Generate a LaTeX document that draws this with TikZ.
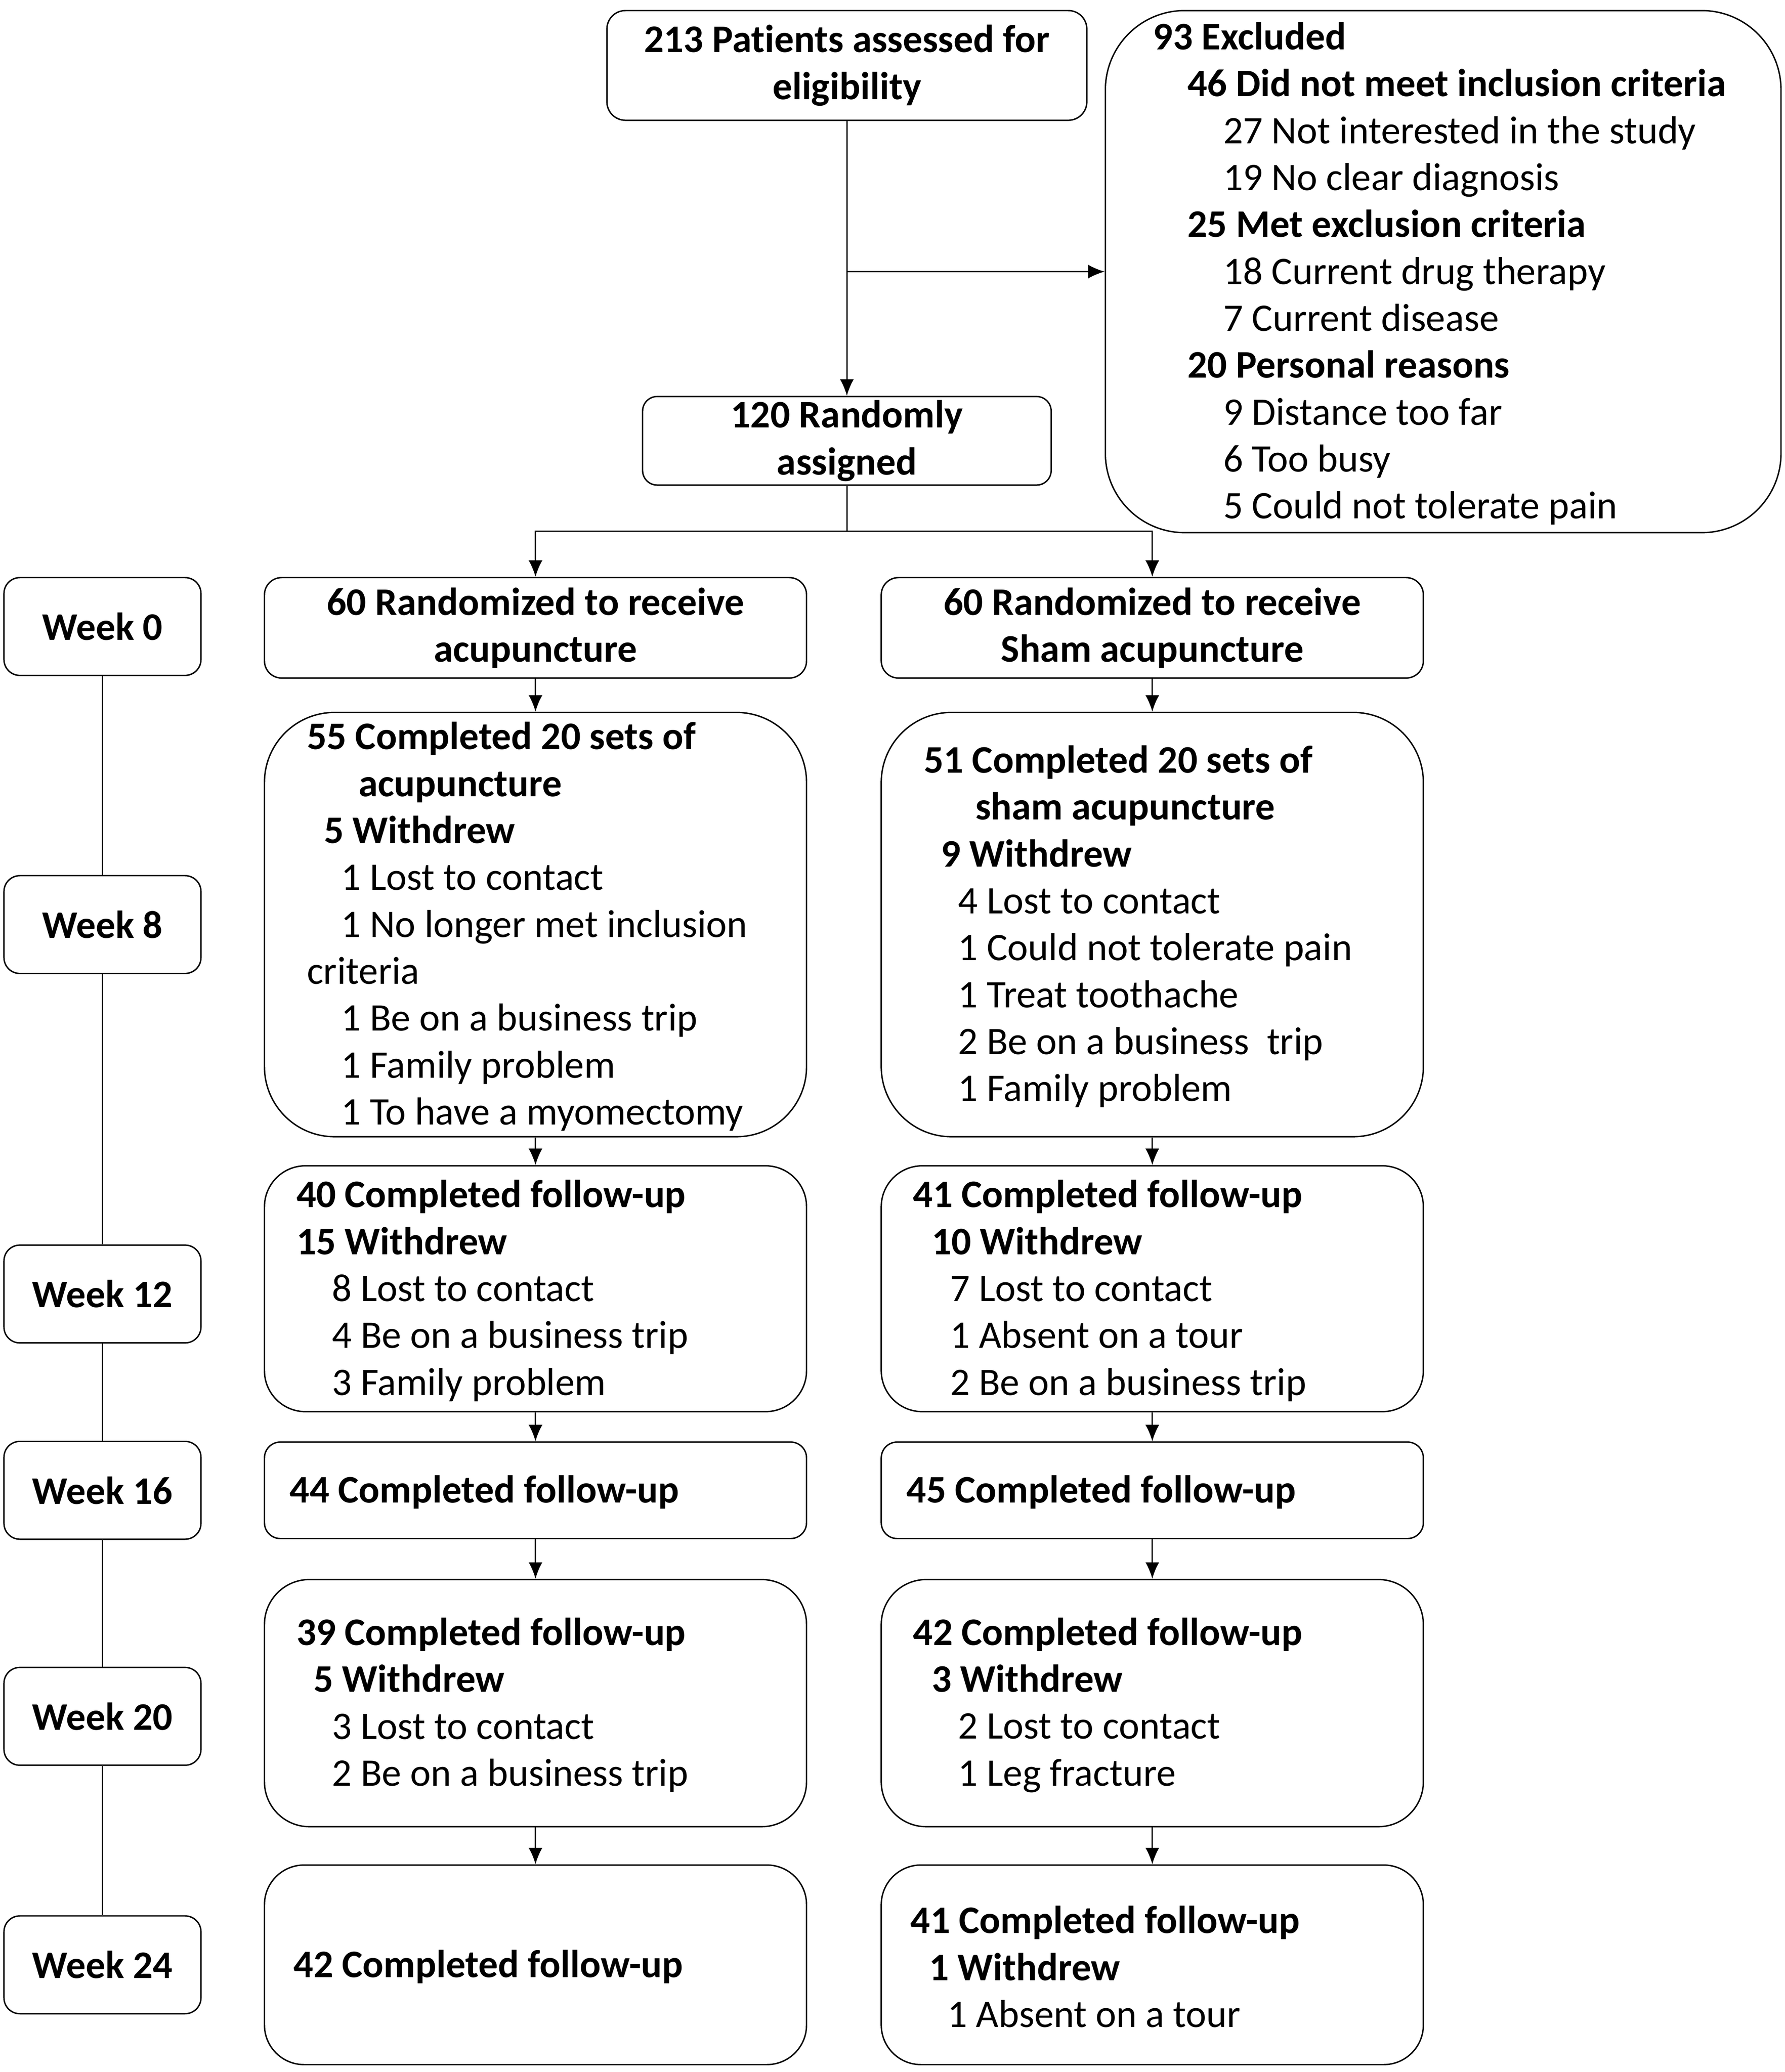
\documentclass[tikz,border=0pt]{standalone}
\usepackage{fontspec}
\setmainfont{Carlito}[Ligatures=NoCommon]
\usetikzlibrary{arrows.meta,positioning}

\tikzset{
  box/.style={draw,line width=0.3pt,inner sep=0pt,align=center},
  wk/.style={box,rounded corners=1.2mm,minimum width=14.9mm,minimum height=7.4mm,font=\fontsize{8.4}{10.1}\selectfont\bfseries},
  colbox/.style={box,minimum width=41mm},
  lst/.style={anchor=west,align=left,inner sep=0pt,yshift=-0.15mm},
  ln/.style={line width=0.3pt},
  arr/.style={ln,-{Latex[length=1.25mm,width=1.05mm]}}
}

\begin{document}
\begin{tikzpicture}[x=0.1mm,y=-0.1mm,font=\fontsize{8.4}{10.1}\selectfont]
\useasboundingbox (0,0) rectangle (1350,1567.6);

\node[box,rounded corners=1.4mm,minimum width=36.3mm,minimum height=8.3mm,font=\fontsize{8.4}{10.1}\selectfont\bfseries] (elig) at (640.5,49.5) {213 Patients assessed for\\eligibility};
\node[box,rounded corners=6mm,minimum width=51.1mm,minimum height=39.5mm] (excl) at (1091.5,205.5) {};
\node[lst] (exclt) at ([xshift=3.6mm]excl.west) {\textbf{93 Excluded}\\
\hspace*{2.6mm}\textbf{46 Did not meet inclusion criteria}\\
\hspace*{5.3mm}27 Not interested in the study\\
\hspace*{5.3mm}19 No clear diagnosis\\
\hspace*{2.6mm}\textbf{25 Met exclusion criteria}\\
\hspace*{5.3mm}18 Current drug therapy\\
\hspace*{5.3mm}7 Current disease\\
\hspace*{2.6mm}\textbf{20 Personal reasons}\\
\hspace*{5.3mm}9 Distance too far\\
\hspace*{5.3mm}6 Too busy\\
\hspace*{5.3mm}5 Could not tolerate pain};
\node[box,rounded corners=1.1mm,minimum width=30.9mm,minimum height=6.7mm,font=\fontsize{8.4}{10.1}\selectfont\bfseries] (rand) at (640.5,333.5) {120 Randomly\\assigned};

\node[wk] (w0) at (77.5,474) {Week 0};
\node[wk] (w8) at (77.5,699.5) {Week 8};
\node[wk] (w12) at (77.5,979) {Week 12};
\node[wk] (w16) at (77.5,1127.5) {Week 16};
\node[wk] (w20) at (77.5,1298.5) {Week 20};
\node[wk] (w24) at (77.5,1486.5) {Week 24};

\node[colbox,rounded corners=1.3mm,minimum height=7.6mm,font=\fontsize{8.4}{10.1}\selectfont\bfseries] (a1) at (405,475) {60 Randomized to receive\\acupuncture};
\node[colbox,rounded corners=5.3mm,minimum height=32.1mm] (a2) at (405,699.5) {};
\node[lst] (a2t) at ([xshift=3.2mm]a2.west) {\textbf{55 Completed 20 sets of}\\
\hspace*{3.9mm}\textbf{acupuncture}\\
\hspace*{1.3mm}\textbf{5 Withdrew}\\
\hspace*{2.6mm}1 Lost to contact\\
\hspace*{2.6mm}1 No longer met inclusion\\
criteria\\
\hspace*{2.6mm}1 Be on a business trip\\
\hspace*{2.6mm}1 Family problem\\
\hspace*{2.6mm}1 To have a myomectomy};
\node[colbox,rounded corners=3.1mm,minimum height=18.6mm] (a3) at (405,975) {};
\node[lst] (a3t) at ([xshift=2.4mm]a3.west) {\textbf{40 Completed follow-up}\\
\textbf{15 Withdrew}\\
\hspace*{2.7mm}8 Lost to contact\\
\hspace*{2.7mm}4 Be on a business trip\\
\hspace*{2.7mm}3 Family problem};
\node[colbox,rounded corners=1.2mm,minimum height=7.3mm] (a4) at (405,1127.5) {};
\node[lst] (a4t) at ([xshift=1.9mm]a4.west) {\textbf{44 Completed follow-up}};
\node[colbox,rounded corners=3.4mm,minimum height=18.7mm] (a5) at (405,1288.5) {};
\node[lst] (a5t) at ([xshift=2.4mm]a5.west) {\textbf{39 Completed follow-up}\\
\hspace*{1.3mm}\textbf{5 Withdrew}\\
\hspace*{2.7mm}3 Lost to contact\\
\hspace*{2.7mm}2 Be on a business trip};
\node[colbox,rounded corners=3mm,minimum height=15.1mm] (a6) at (405,1486.5) {};
\node[lst] (a6t) at ([xshift=2.2mm]a6.west) {\textbf{42 Completed follow-up}};

\node[colbox,rounded corners=1.3mm,minimum height=7.6mm,font=\fontsize{8.4}{10.1}\selectfont\bfseries] (b1) at (871.5,475) {60 Randomized to receive\\Sham acupuncture};
\node[colbox,rounded corners=5.3mm,minimum height=32.1mm] (b2) at (871.5,699.5) {};
\node[lst] (b2t) at ([xshift=3.2mm]b2.west) {\textbf{51 Completed 20 sets of}\\
\hspace*{3.9mm}\textbf{sham acupuncture}\\
\hspace*{1.3mm}\textbf{9 Withdrew}\\
\hspace*{2.6mm}4 Lost to contact\\
\hspace*{2.6mm}1 Could not tolerate pain\\
\hspace*{2.6mm}1 Treat toothache\\
\hspace*{2.6mm}2 Be on a business\ \ trip\\
\hspace*{2.6mm}1 Family problem};
\node[colbox,rounded corners=3.1mm,minimum height=18.6mm] (b3) at (871.5,975) {};
\node[lst] (b3t) at ([xshift=2.4mm]b3.west) {\textbf{41 Completed follow-up}\\
\hspace*{1.4mm}\textbf{10 Withdrew}\\
\hspace*{2.8mm}7 Lost to contact\\
\hspace*{2.8mm}1 Absent on a tour\\
\hspace*{2.8mm}2 Be on a business trip};
\node[colbox,rounded corners=1.2mm,minimum height=7.3mm] (b4) at (871.5,1127.5) {};
\node[lst] (b4t) at ([xshift=1.9mm]b4.west) {\textbf{45 Completed follow-up}};
\node[colbox,rounded corners=3.4mm,minimum height=18.7mm] (b5) at (871.5,1288.5) {};
\node[lst] (b5t) at ([xshift=2.4mm]b5.west) {\textbf{42 Completed follow-up}\\
\hspace*{1.4mm}\textbf{3 Withdrew}\\
\hspace*{3.4mm}2 Lost to contact\\
\hspace*{3.4mm}1 Leg fracture};
\node[colbox,rounded corners=3mm,minimum height=15.1mm] (b6) at (871.5,1486.5) {};
\node[lst] (b6t) at ([xshift=2.2mm]b6.west) {\textbf{41 Completed follow-up}\\
\hspace*{1.4mm}\textbf{1 Withdrew}\\
\hspace*{2.8mm}1 Absent on a tour};

\draw[arr] (elig.south) -- (rand.north);
\draw[arr] (elig.south |- excl.west) -- (excl.west);
\coordinate (split) at (640.5,402);
\draw[ln] (rand.south) -- (split);
\draw[arr] (split) -| (a1.north);
\draw[arr] (split) -| (b1.north);

\draw[arr] (a1.south) -- (a2.north);
\draw[arr] (a2.south) -- (a3.north);
\draw[arr] (a3.south) -- (a4.north);
\draw[arr] (a4.south) -- (a5.north);
\draw[arr] (a5.south) -- (a6.north);
\draw[arr] (b1.south) -- (b2.north);
\draw[arr] (b2.south) -- (b3.north);
\draw[arr] (b3.south) -- (b4.north);
\draw[arr] (b4.south) -- (b5.north);
\draw[arr] (b5.south) -- (b6.north);

\draw[ln] (w0.south) -- (w8.north);
\draw[ln] (w8.south) -- (w12.north);
\draw[ln] (w12.south) -- (w16.north);
\draw[ln] (w16.south) -- (w20.north);
\draw[ln] (w20.south) -- (w24.north);
\end{tikzpicture}
\end{document}
